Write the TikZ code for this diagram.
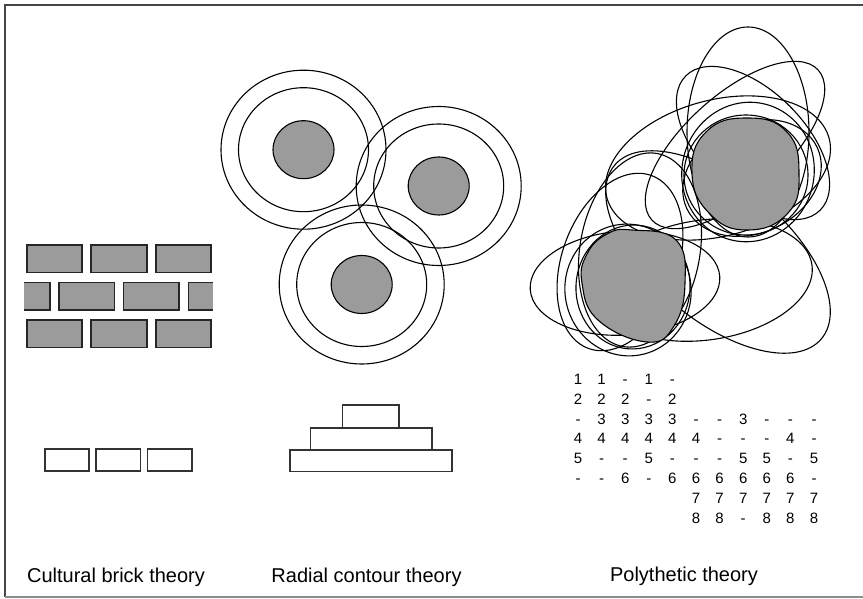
\documentclass[tikz,border=0pt]{standalone}
\usepackage{fontspec}
\setmainfont{Liberation Sans}
\definecolor{blobgray}{RGB}{155,155,155}
\definecolor{framegray}{RGB}{70,70,70}
\begin{document}
\begin{tikzpicture}[x=1pt,y=-1pt,
  brick/.style={draw=black!85,line width=1.4pt,fill=blobgray},
  wbrick/.style={draw=black!80,line width=1.2pt,fill=white},
  ring/.style={draw=black,line width=1.1pt},
  core/.style={draw=black,line width=1.1pt,fill=blobgray},
  loop/.style={draw=black,line width=1.1pt},
  digit/.style={font=\fontsize{15}{15}\selectfont,inner sep=0pt,anchor=base},
  caption/.style={font=\fontsize{20}{20}\selectfont,inner sep=0pt,anchor=center}]
\useasboundingbox (0,0) rectangle (863,599);
% frame
\draw[framegray,line width=2pt] (5,597) -- (5,5) -- (863,5);
\draw[black!45,line width=1.6pt] (5,597) -- (863,597);

% ---- cultural brick theory ----
\foreach \xa/\xb in {27/82,91/147,156/211}{
  \draw[brick] (\xa,245) rectangle (\xb,272.5);
  \draw[brick] (\xa,320) rectangle (\xb,347.5);
}
\foreach \xa/\xb in {59/114.5,123.5/179}{
  \draw[brick] (\xa,282.5) rectangle (\xb,310);
}
\fill[blobgray] (24,282.5) rectangle (50,310);
\draw[black!85,line width=1.4pt] (24,282.5) -- (50,282.5) -- (50,310) -- (24,310);
\fill[blobgray] (188.5,282.5) rectangle (212.5,310);
\draw[black!85,line width=1.4pt] (212.5,282.5) -- (188.5,282.5) -- (188.5,310) -- (212.5,310);
\foreach \xa/\xb in {45/89,96/140.5,147.5/192}{
  \draw[wbrick] (\xa,449) rectangle (\xb,471);
}

% ---- radial contour theory ----
\foreach \cx/\cy in {303.5/149.7,438.7/186,361.7/284.5}{
  \draw[ring] (\cx,\cy) ellipse [x radius=82.5,y radius=79.5];
  \draw[ring] (\cx,\cy) ellipse [x radius=65,y radius=62];
  \draw[core] (\cx,\cy) ellipse [x radius=30.5,y radius=29];
}
\draw[wbrick] (290,450) rectangle (452,471.5);
\draw[wbrick] (310.5,428) rectangle (432,450);
\draw[wbrick] (342.5,405) rectangle (399,428);

% ---- polythetic theory ----
% angles: positive = clockwise on the page (y axis points down)
\foreach \cx/\cy/\rx/\ry/\ang in {
  748/132/61/105/0,
  735/145/112/50/42,
  753/143/95/52/-45,
  718/168/115/68/15,
  625/283/95/52/4,
  705/280/108/60/8,
  718/252/135/68/-40,
  620/262/58/92/-20,
  640/250/60/98/-10,
  746/175/62/60/0,
  752/178/72/55/25,
  748/172/66/70/-15,
  633/287/57/62/-5,
  628/290/63/66/12}{
  \draw[loop,rotate around={\ang:(\cx,\cy)}] (\cx,\cy) ellipse [x radius=\rx,y radius=\ry];
}
\draw[core] plot[smooth cycle,tension=0.8] coordinates {
  (747,118) (787,132) (799,173) (788,213) (747,230) (709,213) (692,173) (706,132)};
\draw[core] plot[smooth cycle,tension=0.75] coordinates {
  (607,234) (632,230) (676,240) (685,283) (674,326) (647,342) (598,320) (582,283) (587,254)};

% number grid
\foreach \row [count=\r] in {{1,1,-,1,-},{2,2,2,-,2},{-,3,3,3,3,-,-,3,-,-,-},
  {4,4,4,4,4,4,-,-,-,4,-},{5,-,-,5,-,-,-,5,5,-,5},{-,-,6,-,6,6,6,6,6,6,-}}{
  \foreach \v [count=\c] in \row {
    \node[digit] (n\r-\c) at ({578+23.6*(\c-1)},{384.5+19.8*(\r-1)}) {\v};
  }
}
\foreach \row [count=\r from 7] in {{7,7,7,7,7,7},{8,8,-,8,8,8}}{
  \foreach \v [count=\c from 6] in \row {
    \node[digit] (n\r-\c) at ({578+23.6*(\c-1)},{384.5+19.8*(\r-1)}) {\v};
  }
}

% captions
\node[caption] (lbl1) at (116,577) {Cultural brick theory};
\node[caption] (lbl2) at (366.5,577) {Radial contour theory};
\node[caption] (lbl3) at (684,576) {Polythetic theory};
\end{tikzpicture}
\end{document}
